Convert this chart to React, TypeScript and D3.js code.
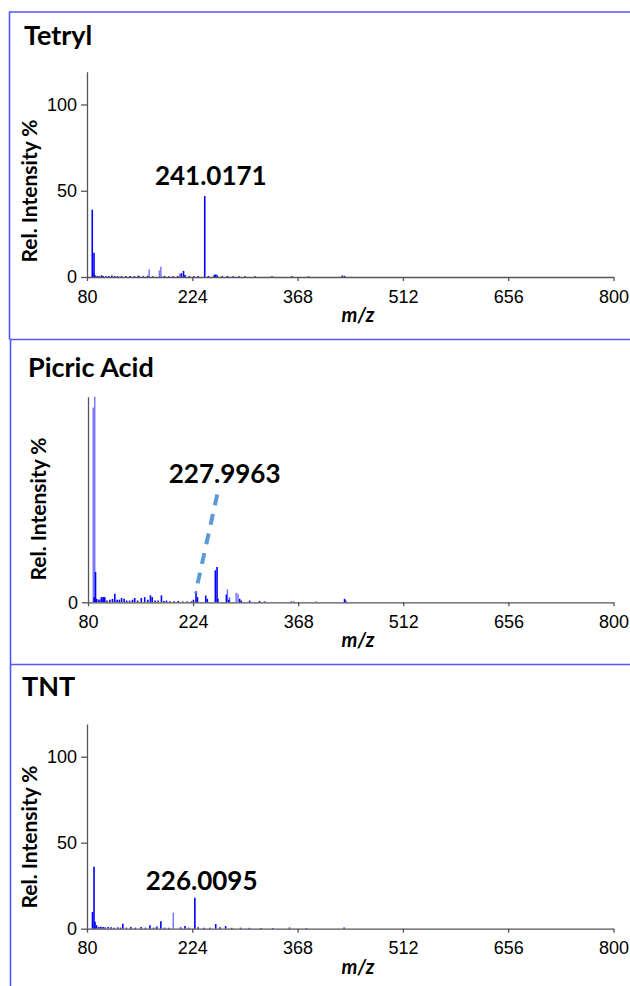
import React, { useRef, useEffect } from 'react';
import * as d3 from 'd3';

const W = 630;
const H = 986;

// shared m/z axis
const mzTicks = [80, 224, 368, 512, 656, 800];
const yMax = 119;

// [m/z, rel. intensity %]
const tetrylPeaks = [
  [87.2, 39], [89.6, 14], [88.5, 2], [91, 1], [94, 0.6], [97, 0.5], [100, 1], [102, 0.6],
  [106, 0.5], [110, 0.6], [114, 0.8], [118, 0.6], [122, 0.5], [127, 0.5], [133, 0.5],
  [139, 0.6], [145, 0.5], [151, 0.6], [157, 0.5], [163, 0.7], [170, 0.5], [186, 0.6],
  [192, 0.5], [198, 0.5], [204, 0.6], [209, 2.2], [212, 3.5], [214, 1.2], [220, 0.5],
  [226, 0.5], [232, 0.6], [241, 47], [246, 0.6], [254, 1.2], [256, 1.5], [258, 1],
  [265, 0.5], [272, 0.6], [280, 0.5], [288, 0.5], [296, 0.4], [310, 0.4], [333, 0.4],
  [360, 0.5], [383, 0.4], [429, 0.8], [432, 0.7],
];
const tetrylLightPeaks = [[150, 1], [165, 4.4], [179, 3.8], [181, 6], [207, 2]];

const picricPeaks = [
  [90.3, 17.5], [88.5, 3], [92, 2], [95, 1.5], [98.5, 3], [100.8, 3], [103, 3], [106, 1],
  [110, 1.5], [113.5, 2], [116.7, 5], [120, 1.5], [123, 1.5], [126, 2.5], [129.5, 2],
  [133, 1], [137, 1], [141, 1.5], [144, 2.5], [148, 1], [153, 2.5], [157.7, 3], [162, 1.5],
  [165.6, 4], [168, 3], [172, 1], [176, 1], [180.6, 4], [184, 0.8], [187.5, 1], [192, 0.6],
  [198, 0.6], [203.5, 0.7], [210, 0.5], [216, 0.5], [222, 0.6], [224.5, 1.5], [228, 6.4],
  [230, 3], [241.3, 3.9], [243.5, 2], [254.5, 18.5], [256.8, 20.5], [258, 2], [269.6, 4.5],
  [273, 1.5], [287.8, 2], [290, 1], [301.5, 1], [315, 0.8], [322, 0.5], [358.5, 0.5],
  [362, 0.4], [392.8, 0.4], [431.5, 2], [433, 1],
];
const picricLightPeaks = [
  [87.2, 112.7], [89.2, 125], [97, 2], [99, 2], [102, 2], [271, 7.5], [274, 3], [283, 5.5], [285.6, 5],
];

const tntPeaks = [
  [87.5, 9.7], [89.6, 36], [91, 4], [93, 2], [96, 1], [99, 1.2], [102, 1], [105, 0.8],
  [109, 1], [113, 0.8], [117, 0.6], [122, 0.8], [126, 0.6], [129, 2.9], [134, 0.6], [140, 1],
  [146, 0.6], [154, 1], [160, 0.6], [166, 2], [171, 0.6], [175, 0.8], [181, 4.4], [186, 0.6],
  [192, 0.5], [208, 0.8], [214, 1.5], [219, 0.6], [227.5, 18], [232, 0.8], [240, 0.5],
  [248, 0.5], [256, 2.7], [262, 0.8], [269.6, 1.5], [278, 0.5], [290, 0.6], [302, 0.5],
  [318, 0.4], [334, 0.4], [357, 0.7], [380, 0.4], [431.6, 0.7],
];
const tntLightPeaks = [[176, 1.5], [198, 9.3]];

const panels = [
  {
    title: 'Tetryl', peaks: tetrylPeaks, light: tetrylLightPeaks, yTicks: [0, 50, 100],
    label: '241.0171', labelAt: [249.3, 53.3], leader: null,
    x0: 87, y0: 277, yTop: 71.7, titleY: 45, titleX: 24, yLabel: [37, 191],
  },
  {
    title: 'Picric Acid', peaks: picricPeaks, light: picricLightPeaks, yTicks: [0],
    label: '227.9963', labelAt: [267.2, 68.8], leader: [[257.1, 62.4], [227.3, 5.4]],
    x0: 88, y0: 602.3, yTop: 396.7, titleY: 376.7, titleX: 28, yLabel: [46, 509],
  },
  {
    title: 'TNT', peaks: tntPeaks, light: tntLightPeaks, yTicks: [0, 50, 100],
    label: '226.0095', labelAt: [236.8, 22.5], leader: null,
    x0: 87, y0: 928.7, yTop: 724, titleY: 696, titleX: 22, yLabel: [37, 837],
  },
];

const boldFont = 'Lato, "Open Sans", sans-serif';
const tickFont = '"Liberation Sans", Arial, sans-serif';

const App = () => {
  const ref = useRef<SVGSVGElement>(null);

  useEffect(() => {
    const svg = d3.select(ref.current);
    svg.selectAll('*').remove();

    svg.append('rect').attr('width', W).attr('height', H).attr('fill', '#fff');

    // panel frames
    const frame = '#5555ff';
    [12, 339.5, 664.5].forEach((y, i) => {
      svg.append('line')
        .attr('x1', i === 0 ? 9 : 10).attr('x2', W)
        .attr('y1', y).attr('y2', y)
        .attr('stroke', frame).attr('stroke-width', 1.6);
    });
    svg.append('line').attr('x1', 9.5).attr('x2', 9.5).attr('y1', 12).attr('y2', 339.5)
      .attr('stroke', frame).attr('stroke-width', 1.6);
    svg.append('line').attr('x1', 10.5).attr('x2', 10.5).attr('y1', 339.5).attr('y2', H)
      .attr('stroke', frame).attr('stroke-width', 1.6);

    panels.forEach(p => {
      const g = svg.append('g');

      const x = d3.scaleLinear().domain([80, 800]).range([p.x0, 613.5]);
      const y = d3.scaleLinear().domain([0, yMax]).range([p.y0, p.yTop]);

      // peaks
      const drawPeaks = (pts, color, w) => {
        g.selectAll(null)
          .data(pts)
          .enter()
          .append('line')
          .attr('x1', d => x(d[0])).attr('x2', d => x(d[0]))
          .attr('y1', y(0))
          .attr('y2', d => y(Math.min(d[1], yMax)))
          .attr('stroke', color)
          .attr('stroke-width', w);
      };
      drawPeaks(p.light, '#7878ff', 1.5);
      drawPeaks(p.peaks, '#0000ff', 1.6);

      // axes
      const xAxis = g.append('g')
        .attr('transform', `translate(0,${p.y0})`)
        .call(d3.axisBottom(x).tickValues(mzTicks).tickSize(4).tickSizeOuter(0).tickPadding(9));
      const yAxis = g.append('g')
        .attr('transform', `translate(${p.x0},0)`)
        .call(d3.axisLeft(y).tickValues(p.yTicks).tickSize(6).tickSizeOuter(0).tickPadding(4));
      [xAxis, yAxis].forEach(a => {
        a.attr('font-family', tickFont).attr('font-size', 18);
        a.selectAll('path, line').attr('stroke', '#555').attr('stroke-width', 1.3);
        a.selectAll('text').attr('fill', '#000');
      });

      // axis titles
      g.append('text')
        .attr('x', 358).attr('y', p.y0 + 45)
        .attr('text-anchor', 'middle')
        .attr('font-family', boldFont).attr('font-weight', 'bold').attr('font-style', 'italic')
        .attr('font-size', 20)
        .text('m/z');
      g.append('text')
        .attr('transform', `translate(${p.yLabel[0]},${p.yLabel[1]}) rotate(-90)`)
        .attr('text-anchor', 'middle')
        .attr('font-family', boldFont).attr('font-weight', 'bold')
        .attr('font-size', 21)
        .text('Rel. Intensity %');

      // panel title
      g.append('text')
        .attr('x', p.titleX).attr('y', p.titleY)
        .attr('font-family', boldFont).attr('font-weight', 'bold')
        .attr('font-size', 27)
        .text(p.title);

      // peak annotation
      g.append('text')
        .attr('x', x(p.labelAt[0])).attr('y', y(p.labelAt[1]))
        .attr('text-anchor', 'middle')
        .attr('font-family', boldFont).attr('font-weight', 'bold')
        .attr('font-size', 26)
        .text(p.label);

      if (p.leader) {
        g.append('line')
          .attr('x1', x(p.leader[0][0])).attr('y1', y(p.leader[0][1]))
          .attr('x2', x(p.leader[1][0])).attr('y2', y(p.leader[1][1]))
          .attr('stroke', '#5b9bd5').attr('stroke-width', 4)
          .attr('stroke-dasharray', '11,9');
      }
    });
  }, []);

  return (
    <svg ref={ref} width={W} height={H}
      style={{ position: 'absolute', left: 0, top: 0, display: 'block' }} />
  );
};

export default App;
